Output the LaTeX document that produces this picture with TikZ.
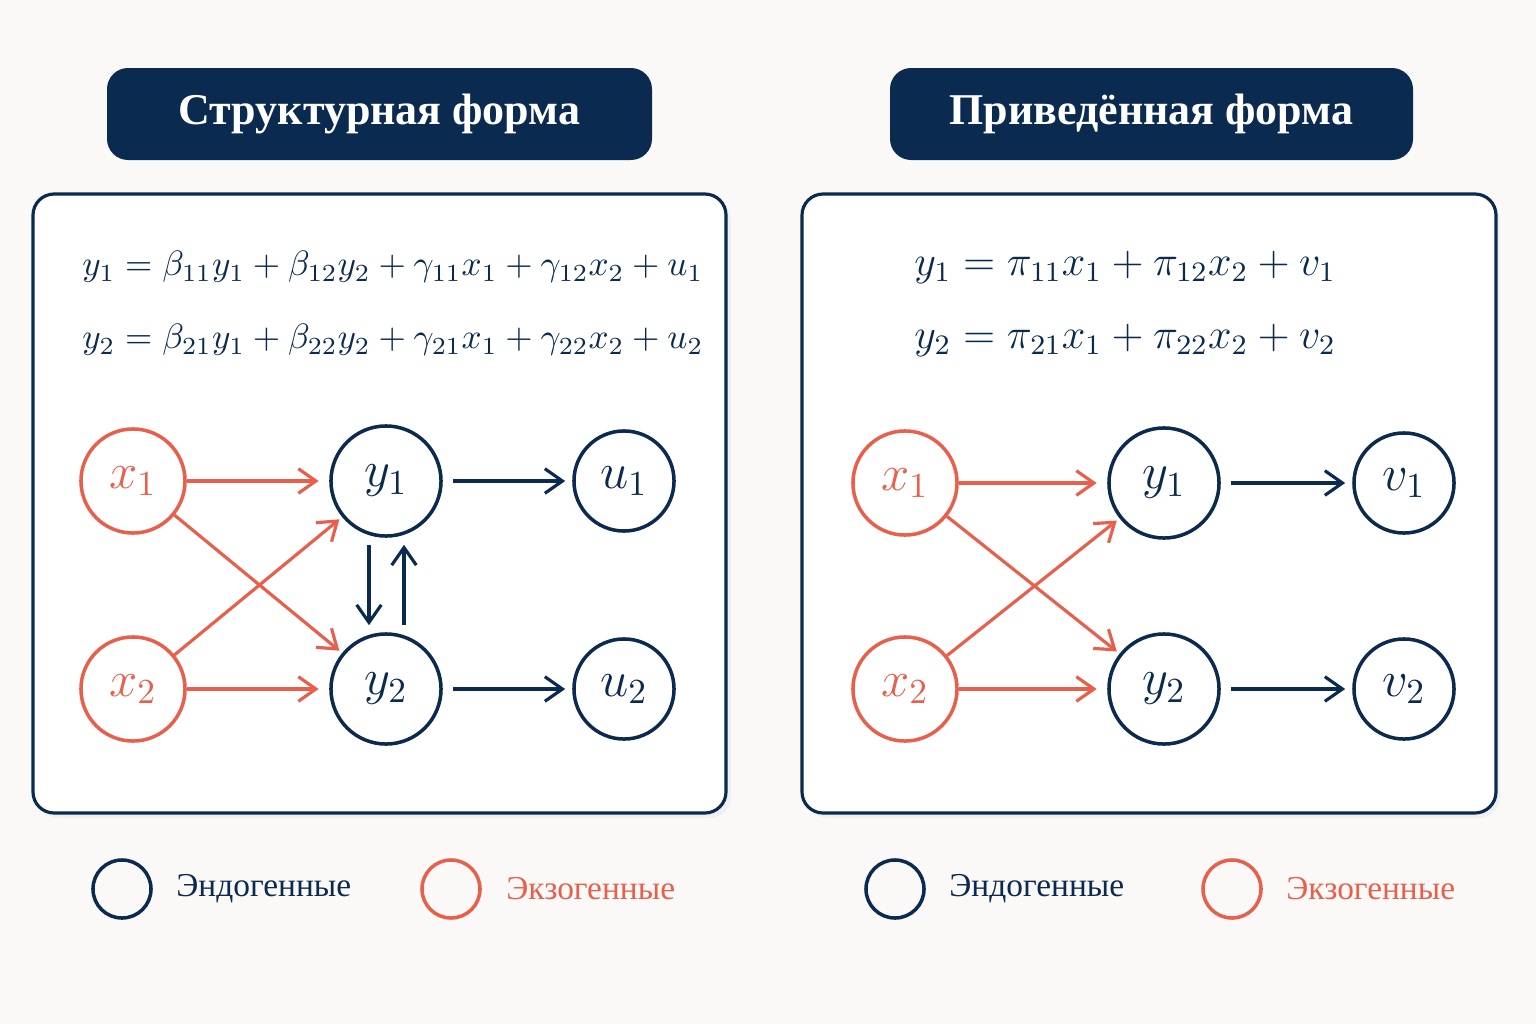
\documentclass[tikz,border=0pt]{standalone}
\usepackage{fontspec}
\setmainfont{Liberation Serif}
\usetikzlibrary{arrows.meta}
\definecolor{navy}{HTML}{0B2A4F}
\definecolor{coral}{HTML}{E8604C}
\definecolor{paper}{HTML}{FAF9F7}
\tikzset{
  endo/.style={circle, draw=navy, line width=1pt, inner sep=0pt, text=navy},
  exo/.style={circle, draw=coral, line width=1pt, inner sep=0pt, text=coral},
  navarr/.style={-{Straight Barb[length=5pt,width=7pt]}, navy, line width=0.9pt},
  corarr/.style={-{Straight Barb[length=5pt,width=7pt]}, coral, line width=0.9pt},
  titletext/.style={text=white, font=\fontsize{12.5}{15}\selectfont\bfseries},
  panel/.style={draw=navy, fill=white, line width=0.9pt, rounded corners=6pt},
  eq/.style={anchor=west, text=navy, font=\fontsize{10}{12}\selectfont},
  eqr/.style={anchor=west, text=navy, font=\fontsize{11.5}{13}\selectfont},
  lab/.style={font=\fontsize{14}{16}\selectfont},
  legend/.style={anchor=west, font=\fontsize{9.5}{12}\selectfont}
}
\begin{document}
\begin{tikzpicture}[x=0.01cm, y=-0.01cm]
\fill[paper] (0,0) rectangle (1536,1024);
\useasboundingbox (0,0) rectangle (1536,1024);

% titles
\fill[navy, rounded corners=6pt] (107,68) rectangle (652,160);
\node[titletext] (tl) at (379.5,114) {Структурная форма};
\fill[navy, rounded corners=6pt] (890,68) rectangle (1413,160);
\node[titletext] (tr) at (1151.5,114) {Приведённая форма};

% panels
\fill[black!6, rounded corners=6pt] (37,199) rectangle (731,818);
\draw[panel] (33,194) rectangle (726,813);
\fill[black!6, rounded corners=6pt] (806,199) rectangle (1500,818);
\draw[panel] (802,194) rectangle (1496,813);

% equations
\node[eq] (e1) at (70,267) {$y_1=\beta_{11}y_1+\beta_{12}y_2+\gamma_{11}x_1+\gamma_{12}x_2+u_1$};
\node[eq] (e2) at (70,340) {$y_2=\beta_{21}y_1+\beta_{22}y_2+\gamma_{21}x_1+\gamma_{22}x_2+u_2$};
\node[eqr] (f1) at (902,267) {$y_1=\pi_{11}x_1+\pi_{12}x_2+v_1$};
\node[eqr] (f2) at (902,340) {$y_2=\pi_{21}x_1+\pi_{22}x_2+v_2$};

% left graph
\node[exo, lab, minimum size=1.04cm] (x1) at (133,481) {$x_1$};
\node[exo, lab, minimum size=1.04cm] (x2) at (133,689) {$x_2$};
\node[endo, lab, minimum size=1.1cm] (y1) at (386,481) {$y_1$};
\node[endo, lab, minimum size=1.1cm] (y2) at (386,689) {$y_2$};
\node[endo, lab, minimum size=1cm] (u1) at (624,481) {$u_1$};
\node[endo, lab, minimum size=1cm] (u2) at (624,689) {$u_2$};
\draw[corarr, shorten >=3pt] (x1) -- (y1);
\draw[corarr, shorten >=3pt] (x2) -- (y2);
\draw[corarr, shorten >=1pt] (x1) -- (y2);
\draw[corarr, shorten >=1pt] (x2) -- (y1);
\draw[navarr, shorten <=3pt, shorten >=2pt] (y1) -- (u1);
\draw[navarr, shorten <=3pt, shorten >=2pt] (y2) -- (u2);
\draw[navarr, shorten <=2pt, shorten >=2pt] ([xshift=-0.17cm]y1.south) -- ([xshift=-0.17cm]y2.north);
\draw[navarr, shorten <=2pt, shorten >=2pt] ([xshift=0.18cm]y2.north) -- ([xshift=0.18cm]y1.south);

% right graph
\node[exo, lab, minimum size=1.04cm] (px1) at (905,483) {$x_1$};
\node[exo, lab, minimum size=1.04cm] (px2) at (905,689) {$x_2$};
\node[endo, lab, minimum size=1.1cm] (py1) at (1164,483) {$y_1$};
\node[endo, lab, minimum size=1.1cm] (py2) at (1164,689) {$y_2$};
\node[endo, lab, minimum size=1cm] (v1) at (1404,483) {$v_1$};
\node[endo, lab, minimum size=1cm] (v2) at (1404,689) {$v_2$};
\draw[corarr, shorten >=3pt] (px1) -- (py1);
\draw[corarr, shorten >=3pt] (px2) -- (py2);
\draw[corarr, shorten >=1pt] (px1) -- (py2);
\draw[corarr, shorten >=1pt] (px2) -- (py1);
\draw[navarr, shorten <=3pt, shorten >=2pt] (py1) -- (v1);
\draw[navarr, shorten <=3pt, shorten >=2pt] (py2) -- (v2);

% legend
\node[endo, minimum size=0.58cm] (le1) at (122,889) {};
\node[legend, text=navy] (lt1) at (164,889) {Эндогенные};
\node[exo, minimum size=0.58cm] (le2) at (451,889) {};
\node[legend, text=coral] (lt2) at (494,889) {Экзогенные};
\node[endo, minimum size=0.58cm] (re1) at (895,889) {};
\node[legend, text=navy] (rt1) at (937,889) {Эндогенные};
\node[exo, minimum size=0.58cm] (re2) at (1232,889) {};
\node[legend, text=coral] (rt2) at (1274,889) {Экзогенные};
\end{tikzpicture}
\end{document}
